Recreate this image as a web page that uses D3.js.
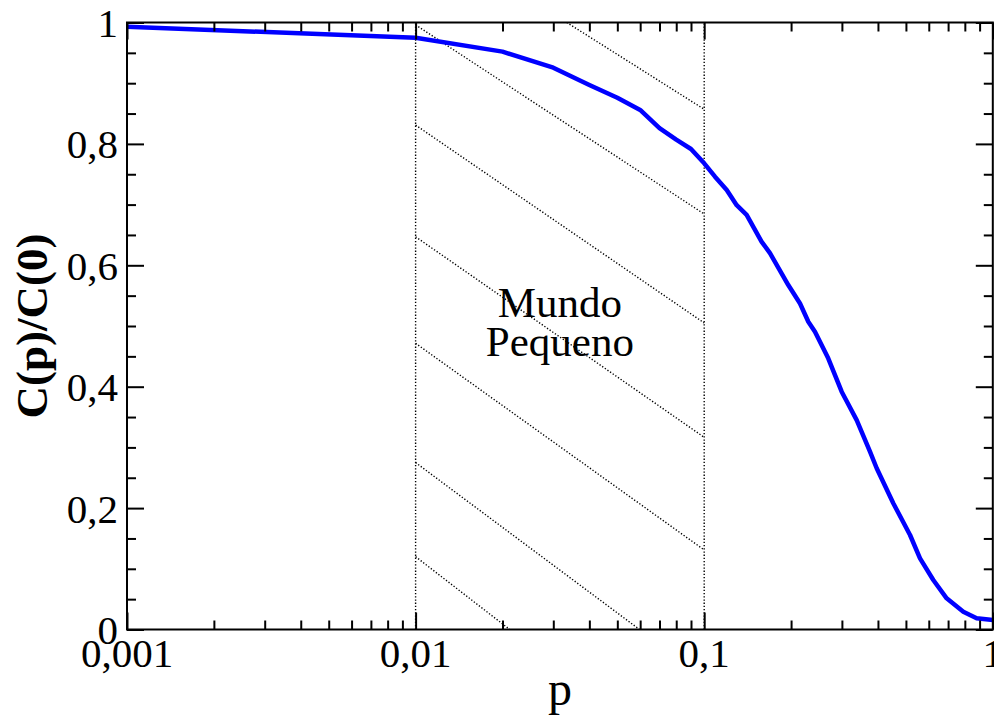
<!DOCTYPE html>
<html>
<head>
<meta charset="utf-8">
<script src="https://cdn.jsdelivr.net/npm/d3@7"></script>
<style>
  html, body { margin: 0; padding: 0; background: #fff; }
  svg { display: block; }
  text { font-family: "Liberation Serif", "Times New Roman", serif; fill: #000; }
</style>
</head>
<body>
<svg id="chart" width="994" height="715"></svg>
<script>
// ---- data ----
const pValues = [0.001, 0.01, 0.02, 0.03, 0.04, 0.05, 0.06, 0.07, 0.08, 0.09, 0.1,
  0.109, 0.1197, 0.1296, 0.1403, 0.158, 0.169, 0.1956, 0.2148, 0.2295, 0.242, 0.269,
  0.2995, 0.3376, 0.3754, 0.396, 0.452, 0.5167, 0.5595, 0.622, 0.692, 0.7904, 0.879, 1.0];
const cRatio = [0.993, 0.975, 0.952, 0.9255, 0.897, 0.876, 0.856, 0.826, 0.807, 0.7916, 0.768,
  0.746, 0.724, 0.699, 0.683, 0.639, 0.620, 0.5675, 0.537, 0.507, 0.4906, 0.4468,
  0.3918, 0.345, 0.293, 0.2656, 0.208, 0.1557, 0.1173, 0.0815, 0.0514, 0.0293, 0.0185, 0.0157];

const xMajorTicks = [0.001, 0.01, 0.1, 1];
const xTickLabels = ["0,001", "0,01", "0,1", "1"];
const yMajorTicks = [0, 0.2, 0.4, 0.6, 0.8, 1];
const yTickLabels = ["0", "0,2", "0,4", "0,6", "0,8", "1"];

const regionBounds = [0.01, 0.1];          // "Mundo Pequeno" region
const regionLabel = ["Mundo", "Pequeno"];
// hatch segments: [p1, y1, p2, y2]
const hatchLines = [
  [0.0334, 1.0, 0.1, 0.857],
  [0.01, 0.996, 0.1, 0.6845],
  [0.01, 0.831, 0.1, 0.505],
  [0.01, 0.647, 0.1, 0.3166],
  [0.01, 0.4715, 0.1, 0.131],
  [0.01, 0.275, 0.0597, 0],
  [0.01, 0.12, 0.0212, 0]
];
const xTitle = "p";
const yTitle = "C(p)/C(0)";

// ---- layout ----
const svg = d3.select("#chart");
const L = 127, R = 992.8, T = 22.5, B = 629.5;
const x = d3.scaleLog().domain([0.001, 1]).range([L, R]);
const y = d3.scaleLinear().domain([0, 1]).range([B, T]);

// minor ticks
const xMinor = [];
[0.001, 0.01, 0.1].forEach(d => { for (let k = 2; k <= 9; k++) xMinor.push(d * k); });
const yMinor = d3.range(0, 21).map(i => i * 0.05).filter(v => Math.abs(v * 5 - Math.round(v * 5)) > 1e-6);

const dotStyle = sel => sel.attr("stroke", "#000").attr("stroke-width", 1.4)
  .attr("stroke-dasharray", "1.3,1.9").attr("fill", "none");

// region vertical dotted lines
svg.append("g").selectAll("line").data(regionBounds).join("line")
  .attr("x1", d => x(d)).attr("x2", d => x(d))
  .attr("y1", y(0)).attr("y2", y(1))
  .call(dotStyle);

// hatch lines
svg.append("g").selectAll("line").data(hatchLines).join("line")
  .attr("x1", d => x(d[0])).attr("y1", d => y(d[1]))
  .attr("x2", d => x(d[2])).attr("y2", d => y(d[3]))
  .call(dotStyle);

// region label
const midP = Math.sqrt(regionBounds[0] * regionBounds[1]);
svg.append("g").selectAll("text").data(regionLabel).join("text")
  .attr("x", x(midP)).attr("y", (d, i) => y(0.515) + i * 39)
  .attr("text-anchor", "middle").attr("font-size", 43).text(d => d);

// curve
const line = d3.line().x((d, i) => x(pValues[i])).y(d => y(d));
svg.append("path").datum(cRatio)
  .attr("d", line).attr("fill", "none")
  .attr("stroke", "#0000ff").attr("stroke-width", 4.5).attr("stroke-linejoin", "round");

// axes (ticks inward on all four sides)
const tickStroke = 2;
const bottomAxis = d3.axisTop(x).tickValues(xMajorTicks).tickSize(17).tickFormat("");
const bottomMinor = d3.axisTop(x).tickValues(xMinor).tickSize(9).tickFormat("");
const topAxis = d3.axisBottom(x).tickValues(xMajorTicks).tickSize(17).tickFormat("");
const topMinor = d3.axisBottom(x).tickValues(xMinor).tickSize(9).tickFormat("");
const leftAxis = d3.axisRight(y).tickValues(yMajorTicks).tickSize(17).tickFormat("");
const leftMinor = d3.axisRight(y).tickValues(yMinor).tickSize(9).tickFormat("");
const rightAxis = d3.axisLeft(y).tickValues(yMajorTicks).tickSize(17).tickFormat("");
const rightMinor = d3.axisLeft(y).tickValues(yMinor).tickSize(9).tickFormat("");

function styleAxis(g) {
  g.select(".domain").remove();
  g.selectAll("line").attr("stroke", "#000").attr("stroke-width", tickStroke);
}
svg.append("g").attr("transform", `translate(0,${B})`).call(bottomAxis).call(styleAxis);
svg.append("g").attr("transform", `translate(0,${B})`).call(bottomMinor).call(styleAxis);
svg.append("g").attr("transform", `translate(0,${T})`).call(topAxis).call(styleAxis);
svg.append("g").attr("transform", `translate(0,${T})`).call(topMinor).call(styleAxis);
svg.append("g").attr("transform", `translate(${L},0)`).call(leftAxis).call(styleAxis);
svg.append("g").attr("transform", `translate(${L},0)`).call(leftMinor).call(styleAxis);
svg.append("g").attr("transform", `translate(${R},0)`).call(rightAxis).call(styleAxis);
svg.append("g").attr("transform", `translate(${R},0)`).call(rightMinor).call(styleAxis);

// frame
svg.append("rect").attr("x", L).attr("y", T).attr("width", R - L).attr("height", B - T)
  .attr("fill", "none").attr("stroke", "#000").attr("stroke-width", 2);

// tick labels
svg.append("g").selectAll("text").data(xMajorTicks).join("text")
  .attr("x", d => x(d)).attr("y", B + 37.5)
  .attr("text-anchor", "middle").attr("font-size", 41)
  .text((d, i) => xTickLabels[i]);
svg.append("g").selectAll("text").data(yMajorTicks).join("text")
  .attr("x", L - 9).attr("y", d => y(d) + 14.5)
  .attr("text-anchor", "end").attr("font-size", 41)
  .text((d, i) => yTickLabels[i]);

// axis titles
svg.append("text").attr("x", (L + R) / 2).attr("y", 705)
  .attr("text-anchor", "middle").attr("font-size", 48).text(xTitle);
svg.append("text").attr("transform", `translate(47,${(T + B) / 2}) rotate(-90)`)
  .attr("text-anchor", "middle").attr("font-size", 45).attr("font-weight", "bold").text(yTitle);
</script>
</body>
</html>
